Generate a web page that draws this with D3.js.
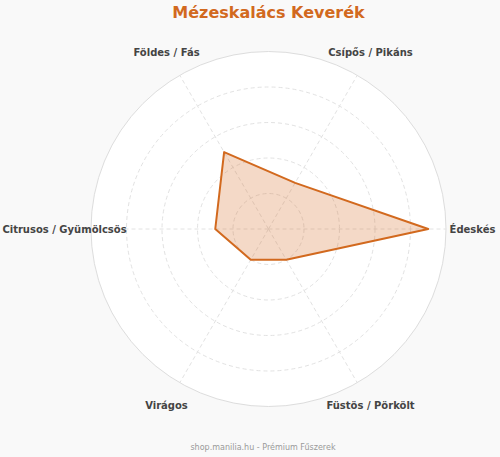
<!DOCTYPE html>
<html>
<head>
<meta charset="utf-8">
<script src="https://cdn.jsdelivr.net/npm/d3@7"></script>
<style>
  body { margin: 0; background: #f9f9f9; }
  svg { display: block; font-family: "DejaVu Sans", sans-serif; }
</style>
</head>
<body>
<svg id="radar" width="500" height="457"></svg>
<script>
// flavour axes, starting at the right and going counter-clockwise
var axes = ["Édeskés", "Csípős / Pikáns", "Földes / Fás", "Citrusos / Gyümölcsös", "Virágos", "Füstös / Pörkölt"];
var values = [9, 3, 5, 3, 2, 2];
var levels = [2, 4, 6, 8, 10];
var maxValue = 10;

var svg = d3.select('#radar');
var width = +svg.attr('width');
var height = +svg.attr('height');

var cx = 268.5, cy = 229, radius = 177.5;
var labelRadius = 204;

var rScale = d3.scaleLinear().domain([0, maxValue]).range([0, radius]);
var angle = d3.scaleLinear().domain([0, axes.length]).range([0, -2 * Math.PI]);

svg.append('rect')
    .attr('width', width)
    .attr('height', height)
    .attr('fill', '#f9f9f9');

var g = svg.append('g')
    .attr('transform', 'translate(' + [cx, cy] + ')');

// outer disc
g.append('circle')
    .attr('r', rScale(maxValue))
    .attr('fill', '#fff')
    .attr('stroke', '#ddd')
    .attr('stroke-width', 1);

// inner dashed rings
g.selectAll('.ring')
    .data(levels.slice(0, -1))
    .enter().append('circle')
    .attr('class', 'ring')
    .attr('r', function(d) { return rScale(d); })
    .attr('fill', 'none')
    .attr('stroke', '#e2e2e2')
    .attr('stroke-dasharray', '4,3');

// spokes
g.selectAll('.spoke')
    .data(axes)
    .enter().append('line')
    .attr('class', 'spoke')
    .attr('x1', 0).attr('y1', 0)
    .attr('x2', function(d, i) { return rScale(maxValue) * Math.cos(angle(i)); })
    .attr('y2', function(d, i) { return rScale(maxValue) * Math.sin(angle(i)); })
    .attr('stroke', '#e2e2e2')
    .attr('stroke-dasharray', '4,3');

// data polygon
var line = d3.lineRadial()
    .angle(function(d, i) { return Math.PI / 2 + angle(i); })
    .radius(function(d) { return rScale(d); })
    .curve(d3.curveLinearClosed);

g.append('path')
    .datum(values)
    .attr('d', line)
    .attr('fill', 'rgba(210,105,30,0.25)')
    .attr('stroke', '#d2691e')
    .attr('stroke-width', 2)
    .attr('stroke-linejoin', 'round');

// axis labels
g.selectAll('.label')
    .data(axes)
    .enter().append('text')
    .attr('class', 'label')
    .attr('x', function(d, i) { return labelRadius * Math.cos(angle(i)); })
    .attr('y', function(d, i) { return labelRadius * Math.sin(angle(i)); })
    .attr('text-anchor', 'middle')
    .attr('dominant-baseline', 'central')
    .style('font-size', '10px')
    .style('font-weight', 'bold')
    .attr('fill', '#444')
    .text(function(d) { return d; });

svg.append('text')
    .attr('x', cx)
    .attr('y', 18)
    .attr('text-anchor', 'middle')
    .style('font-size', '16px')
    .style('font-weight', 'bold')
    .attr('fill', '#d2691e')
    .text('Mézeskalács Keverék');

svg.append('text')
    .attr('x', 263)
    .attr('y', 450)
    .attr('text-anchor', 'middle')
    .style('font-size', '8px')
    .attr('fill', '#999')
    .text('shop.manilia.hu - Prémium Fűszerek');
</script>
</body>
</html>
